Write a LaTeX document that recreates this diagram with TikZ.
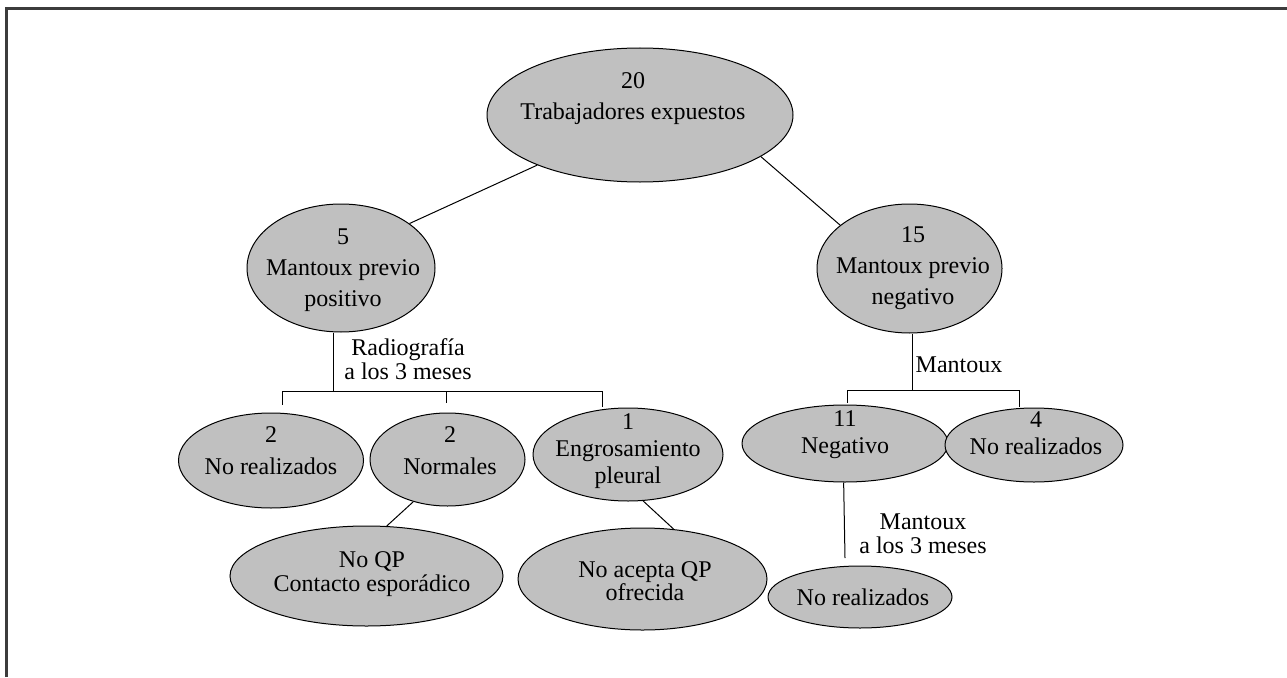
\documentclass[tikz,border=0pt]{standalone}
\usepackage{fontspec}
\setmainfont{Liberation Serif}
\usetikzlibrary{shapes.geometric,positioning}
\definecolor{ovalgray}{HTML}{C0C0C0}
\definecolor{framegray}{HTML}{3C3C3C}

\begin{document}
\begin{tikzpicture}[x=1pt,y=-1pt,
  oval/.style={ellipse,draw,line width=1pt,fill=ovalgray,inner sep=0pt},
  txt/.style={align=center,inner sep=0pt,anchor=north,
    font=\fontsize{24}{#1}\selectfont},
  txt/.default=31,
  lbl/.style={align=center,inner sep=0pt,anchor=north,
    font=\fontsize{24}{24}\selectfont},
  link/.style={line width=1pt}]
\useasboundingbox (0,0) rectangle (1287,677);
\draw[framegray,line width=2.2pt] (6.5,677) -- (6.5,8.5) -- (1287,8.5);

% ovals
\node[oval,minimum width=306pt,minimum height=134pt] (root) at (640,115) {};
\node[oval,minimum width=188pt,minimum height=128pt] (pos) at (341,268) {};
\node[oval,minimum width=185pt,minimum height=129pt] (neg) at (909.5,268.5) {};
\node[oval,minimum width=185pt,minimum height=95pt] (radNR) at (271,460.5) {};
\node[oval,minimum width=155pt,minimum height=93pt] (radNorm) at (447.5,459.5) {};
\node[oval,minimum width=190pt,minimum height=93pt] (radEngr) at (628,454.5) {};
\node[oval,minimum width=273pt,minimum height=100pt] (noQP) at (366.5,576) {};
\node[oval,minimum width=249pt,minimum height=102pt] (noAcepta) at (642.5,579) {};
\node[oval,minimum width=206pt,minimum height=77pt] (mxNeg) at (845,443.5) {};
\node[oval,minimum width=178pt,minimum height=74pt] (mxNR) at (1034,445) {};
\node[oval,minimum width=184pt,minimum height=62pt] (mx3NR) at (860,597) {};

% texts
\node[txt] (rootT) at (633,72.5) {20\\Trabajadores expuestos};
\node[txt] (posT) at (343,228.5) {5\\Mantoux previo\\positivo};
\node[txt] (negT) at (913,226.5) {15\\Mantoux previo\\negativo};
\node[txt=32] (radNRT) at (271,426.5) {2\\No realizados};
\node[txt=32] (radNormT) at (450,426.5) {2\\Normales};
\node[txt=27] (radEngrT) at (628,413.5) {1\\Engrosamiento\\pleural};
\node[txt=24] (noQPT) at (372,551.5) {No QP\\Contacto esporádico};
\node[txt=22] (noAceptaT) at (645,561.5) {No acepta QP\\ofrecida};
\node[txt=27] (mxNegT) at (845,410.5) {11\\Negativo};
\node[txt=27] (mxNRT) at (1036,411.5) {4\\No realizados};
\node[txt] (mx3NRT) at (863,588.5) {No realizados};

% labels
\node[lbl] (radLbl) at (408,338.5) {Radiografía\\a los 3 meses};
\node[lbl] (mxLbl) at (959,356.5) {Mantoux};
\node[lbl] (mx3Lbl) at (923,513.5) {Mantoux\\a los 3 meses};

% links
\draw[link] (root.206.8) -- (pos.33.9);
\draw[link] (root.-19.3) -- (neg.148.6);
\draw[link] (radNorm.231.3) -- (noQP.68.5);
\draw[link] (radEngr.-72.2) -- (noAcepta.58);

\coordinate (radJ) at (333,391);
\coordinate (radA) at (282,391);
\coordinate (radB) at (446,391);
\coordinate (radC) at (602,391);
\draw[link] (pos.south -| radJ) -- (radJ);
\draw[link] (radA) -- (radC);
\draw[link] (radA) -- ++(0,14);
\draw[link] (radB) -- ++(0,12);
\draw[link] (radC) -- ++(0,16);

\coordinate (mxJ) at (912,390);
\coordinate (mxA) at (847,390);
\coordinate (mxB) at (1019,390);
\draw[link] (neg.south -| mxJ) -- (mxJ);
\draw[link] (mxA) -- (mxB);
\draw[link] (mxA) -- ++(0,13);
\draw[link] (mxB) -- ++(0,17);

\coordinate (mx3J) at (845,558);
\draw[link] (mxNeg.268) -- (mx3J);
\end{tikzpicture}
\end{document}
